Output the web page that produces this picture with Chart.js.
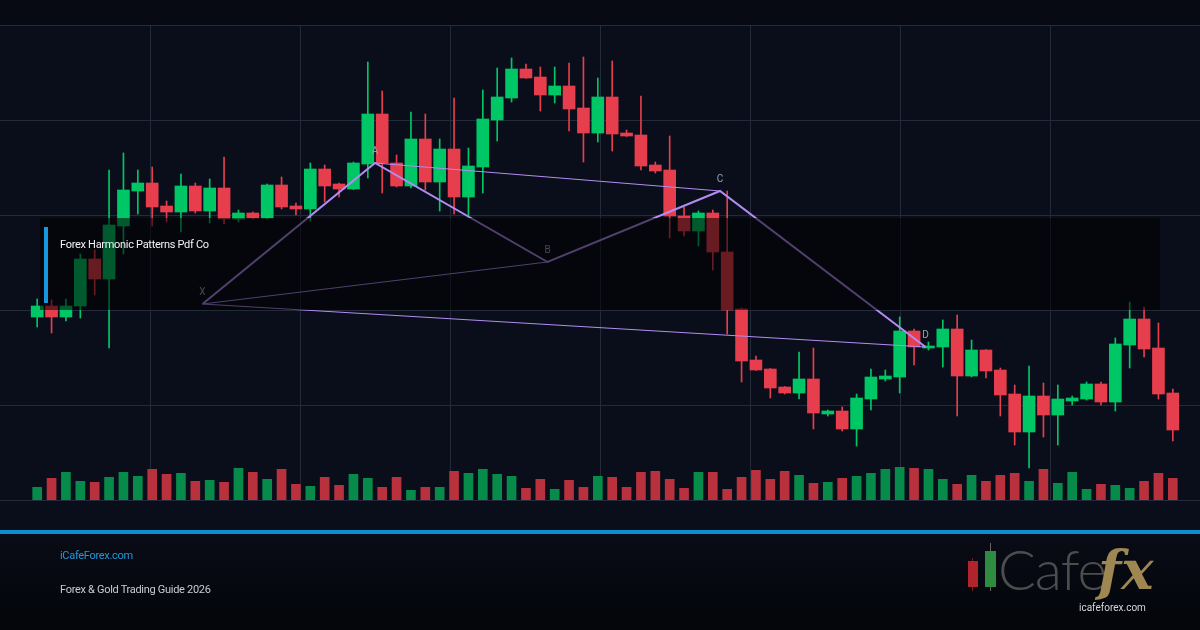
<!DOCTYPE html>
<html>
<head>
<meta charset="utf-8">
<script src="https://cdn.jsdelivr.net/npm/chart.js@4.4.1/dist/chart.umd.min.js"></script>
<style>
  html, body { margin: 0; padding: 0; background: #0a0e1a; }
  #wrap { position: relative; width: 1200px; height: 630px; overflow: hidden; font-family: Roboto, "Noto Sans", sans-serif; }
  #chart { position: absolute; left: 0; top: 0; }
  .shade { position: absolute; left: 40px; top: 218px; width: 1120px; height: 92px; background: rgba(0, 0, 0, 0.55); }
  .accent { position: absolute; left: 44px; top: 227px; width: 4px; height: 76px; background: #1697de; }
  .title { position: absolute; left: 60px; top: 238px; line-height: 14px; font-size: 11px; letter-spacing: -0.3px; color: #f1f3f6; }
  .site { position: absolute; left: 60px; top: 549px; line-height: 14px; font-size: 11px; letter-spacing: -0.3px; color: #2497d6; }
  .guide { position: absolute; left: 60px; top: 583px; line-height: 14px; font-size: 11px; letter-spacing: -0.3px; color: #c8ccd3; }
  .logo div { position: absolute; }
  .cafe { left: 998px; top: 541px; font-family: Lato, Inter, sans-serif; font-weight: 300; font-size: 56px; line-height: 56px; color: #4d4d4d; letter-spacing: -1px; }
  .fx { left: 1098px; top: 540px; font-family: "DejaVu Serif", "Liberation Serif", serif; font-style: italic; font-weight: bold; font-size: 54px; line-height: 60px; color: #9f8752; }
  .logourl { left: 1079px; top: 602px; font-size: 10px; line-height: 12px; color: #d6d6d6; }
</style>
</head>
<body>
<div id="wrap">
  <canvas id="chart" width="1200" height="630"></canvas>
  <div class="shade"></div>
  <div class="accent"></div>
  <div class="title">Forex Harmonic Patterns Pdf Co</div>
  <div class="site">iCafeForex.com</div>
  <div class="guide">Forex &amp; Gold Trading Guide 2026</div>
  <div class="logo">
    <div style="left:972px;top:558px;width:1px;height:33px;background:#7a1a1f"></div>
    <div style="left:968px;top:561px;width:10px;height:26px;background:#b2242b"></div>
    <div style="left:990px;top:543px;width:1px;height:48px;background:#666"></div>
    <div style="left:985px;top:551px;width:11px;height:36px;background:#2f8b40"></div>
    <div class="cafe">Cafe</div>
    <div class="fx">fx</div>
    <div class="logourl">icafeforex.com</div>
  </div>
</div>
<script>
// candles
const opens = [
  2341.6, 2343.8, 2341.6, 2343.8, 2353.2, 2349.2, 2359.8, 2366.8, 2368.4, 2363.8,
  2362.6, 2367.8, 2362.8, 2367.4, 2361.2, 2362.4, 2361.4, 2368.0, 2363.8, 2363.2,
  2371.2, 2368.2, 2367.2, 2372.2, 2382.2, 2372.4, 2367.8, 2377.2, 2368.6, 2375.2,
  2365.6, 2371.6, 2381.0, 2385.4, 2391.2, 2389.6, 2386.0, 2387.8, 2383.4, 2378.4,
  2385.6, 2378.4, 2378.0, 2372.0, 2371.0, 2361.8, 2358.8, 2362.4, 2354.6, 2343.2,
  2333.0, 2331.2, 2327.6, 2326.4, 2329.2, 2322.2, 2322.8, 2319.2, 2325.2, 2329.2,
  2329.6, 2338.8, 2335.4, 2335.6, 2339.2, 2329.8, 2335.0, 2331.0, 2326.2, 2318.6,
  2325.8, 2322.0, 2324.8, 2325.2, 2328.2, 2324.6, 2336.0, 2341.2, 2335.4, 2326.4
];
const highs = [
  2345.2, 2345.0, 2345.2, 2354.2, 2355.0, 2371.0, 2374.4, 2371.0, 2371.6, 2364.8,
  2370.2, 2368.4, 2369.2, 2373.6, 2363.0, 2362.6, 2368.2, 2369.6, 2364.4, 2372.4,
  2372.0, 2368.4, 2372.6, 2392.6, 2386.8, 2374.0, 2382.6, 2382.2, 2377.2, 2385.4,
  2375.4, 2387.0, 2391.4, 2393.4, 2392.2, 2391.6, 2391.6, 2392.4, 2393.6, 2389.4,
  2392.8, 2379.0, 2385.8, 2372.6, 2377.8, 2363.6, 2362.8, 2363.0, 2366.8, 2343.4,
  2333.8, 2331.3, 2327.7, 2334.6, 2335.4, 2323.0, 2323.6, 2326.2, 2331.2, 2331.0,
  2341.6, 2339.2, 2336.6, 2341.0, 2342.0, 2337.0, 2335.1, 2331.4, 2328.0, 2331.8,
  2328.4, 2328.0, 2325.8, 2328.6, 2328.6, 2337.4, 2344.6, 2343.6, 2340.4, 2327.2
];
const lows = [
  2339.6, 2338.4, 2340.8, 2341.4, 2346.0, 2335.4, 2354.2, 2362.2, 2359.8, 2360.6,
  2358.6, 2362.4, 2360.4, 2360.2, 2360.6, 2361.2, 2361.2, 2363.2, 2362.0, 2360.8,
  2364.6, 2365.6, 2367.1, 2369.4, 2366.4, 2367.6, 2367.4, 2367.0, 2362.8, 2362.2,
  2361.8, 2366.4, 2376.8, 2384.6, 2389.3, 2382.8, 2384.4, 2378.8, 2372.6, 2376.6,
  2374.8, 2377.7, 2371.0, 2370.4, 2357.4, 2357.8, 2355.8, 2351.0, 2338.2, 2328.6,
  2330.9, 2325.4, 2326.2, 2325.2, 2319.2, 2321.8, 2318.8, 2315.8, 2323.0, 2328.8,
  2326.4, 2332.0, 2335.0, 2331.6, 2321.8, 2329.6, 2329.4, 2321.8, 2316.0, 2311.4,
  2317.6, 2316.0, 2324.0, 2325.0, 2324.0, 2322.8, 2331.4, 2333.6, 2325.2, 2316.8
];
const closes = [
  2343.8, 2341.6, 2343.8, 2353.2, 2349.2, 2360.0, 2367.0, 2368.4, 2363.6, 2362.6,
  2367.8, 2362.8, 2367.4, 2361.2, 2362.4, 2361.4, 2368.0, 2363.6, 2363.2, 2371.2,
  2367.8, 2367.2, 2372.4, 2382.2, 2372.4, 2367.8, 2377.2, 2368.6, 2375.2, 2365.6,
  2371.8, 2381.2, 2385.6, 2391.2, 2389.4, 2386.0, 2387.8, 2383.2, 2378.4, 2385.6,
  2378.2, 2377.8, 2371.8, 2370.8, 2361.8, 2358.8, 2362.4, 2354.6, 2343.0, 2332.8,
  2331.0, 2327.4, 2326.4, 2329.2, 2322.4, 2322.8, 2319.2, 2325.4, 2329.6, 2329.8,
  2338.8, 2335.6, 2335.8, 2339.2, 2329.8, 2335.0, 2330.8, 2326.0, 2318.6, 2325.8,
  2322.0, 2325.2, 2325.4, 2328.2, 2324.6, 2336.2, 2341.2, 2335.2, 2326.2, 2319.0
];
const volumes = [
  1270, 2170, 2770, 1870, 1770, 2270, 2770, 2370, 3070, 2570,
  2670, 1870, 1970, 1770, 3170, 2770, 2070, 3070, 1570, 1370,
  2270, 1470, 2570, 2170, 1270, 2270, 970, 1270, 1270, 2870,
  2670, 3070, 2570, 2370, 1170, 2070, 1070, 1970, 1270, 2370,
  2270, 1270, 2770, 2870, 2070, 1170, 2770, 2770, 1070, 2270,
  2970, 2070, 2870, 2470, 1670, 1770, 2170, 2370, 2670, 3070,
  3270, 3170, 3070, 2070, 1570, 2470, 1870, 2470, 2670, 1870,
  3070, 1670, 2770, 1070, 1570, 1470, 1170, 1870, 2670, 2170
];
const barLabels = opens.map((_, i) => "Bar " + (i + 1));

// XABCD harmonic pattern (bar position, price)
const patternNames = ["X", "A", "B", "C", "D"];
const patternBars = [11.5, 23.5, 35.5, 47.5, 61.8];
const patternPrices = [2344.2, 2372.4, 2352.6, 2366.8, 2335.6];

const UP = "#00c766";
const DOWN = "#e63e4c";
const VOL_UP = "#078b4b";
const VOL_DOWN = "#b8313d";
const LINE = "#b38cf3";

const isUp = (i) => closes[i] >= opens[i];
const candleColors = opens.map((_, i) => (isUp(i) ? UP : DOWN));
const volumeColors = opens.map((_, i) => (isUp(i) ? VOL_UP : VOL_DOWN));

const pt = (k) => ({ x: patternBars[k], y: patternPrices[k] });

// background, grid and point letters
const backdrop = {
  id: "backdrop",
  beforeDraw(chart) {
    const c = chart.ctx;
    c.save();
    c.fillStyle = "#0a0e1b";
    c.fillRect(0, 0, 1200, 530);
    c.fillStyle = "#070a13";
    c.fillRect(0, 0, 1200, 25);
    const g = c.createLinearGradient(0, 534, 0, 630);
    g.addColorStop(0, "#090c16");
    g.addColorStop(1, "#03050a");
    c.fillStyle = g;
    c.fillRect(0, 534, 1200, 96);
    c.fillStyle = "#0a8fd2";
    c.fillRect(0, 530, 1200, 4);

    c.strokeStyle = "#232a3a";
    c.lineWidth = 1;
    c.beginPath();
    for (let y = 25; y <= 500; y += 95) {
      c.moveTo(0, y + 0.5);
      c.lineTo(1200, y + 0.5);
    }
    for (let x = 150; x < 1200; x += 150) {
      c.moveTo(x + 0.5, 25);
      c.lineTo(x + 0.5, 500);
    }
    c.stroke();
    c.restore();
  },
  afterDatasetsDraw(chart) {
    const c = chart.ctx;
    const xs = chart.scales.xl;
    const ys = chart.scales.y;
    c.save();
    c.font = "10px Roboto, sans-serif";
    c.fillStyle = "#9aa1ae";
    c.textAlign = "center";
    c.textBaseline = "middle";
    patternNames.forEach((n, k) => {
      c.fillText(n, xs.getPixelForValue(patternBars[k]), ys.getPixelForValue(patternPrices[k]) - 12);
    });
    c.restore();
  }
};

const lineStyle = { type: "line", xAxisID: "xl", yAxisID: "y", borderColor: LINE, pointRadius: 0, fill: false, tension: 0, order: 0 };

new Chart(document.getElementById("chart").getContext("2d"), {
  type: "bar",
  data: {
    labels: barLabels,
    datasets: [
      { ...lineStyle, label: "XABCD", data: [0, 1, 2, 3, 4].map(pt), borderWidth: 2 },
      { ...lineStyle, label: "XB", data: [pt(0), pt(2)], borderWidth: 1 },
      { ...lineStyle, label: "AC", data: [pt(1), pt(3)], borderWidth: 1 },
      { ...lineStyle, label: "XD", data: [pt(0), pt(4)], borderWidth: 1 },
      {
        label: "Body",
        data: opens.map((o, i) => [o, closes[i]]),
        backgroundColor: candleColors,
        barThickness: 12,
        minBarLength: 1,
        grouped: false,
        order: 1
      },
      {
        label: "Wick",
        data: lows.map((l, i) => [l, highs[i]]),
        backgroundColor: candleColors,
        barThickness: 1,
        grouped: false,
        order: 2
      },
      {
        label: "Volume",
        data: volumes,
        yAxisID: "yv",
        backgroundColor: volumeColors,
        barThickness: 9,
        grouped: false,
        order: 3
      }
    ]
  },
  options: {
    responsive: false,
    animation: false,
    events: [],
    layout: { padding: { left: 30, right: 20, top: 25, bottom: 130 } },
    plugins: { legend: { display: false }, tooltip: { enabled: false } },
    scales: {
      x: { display: false, offset: true },
      xl: { type: "linear", display: false, offset: false, min: -0.5, max: 79.5 },
      y: { display: false, min: 2305, max: 2400 },
      yv: { display: false, min: 0, max: 47500 }
    }
  },
  plugins: [backdrop]
});
</script>
</body>
</html>
